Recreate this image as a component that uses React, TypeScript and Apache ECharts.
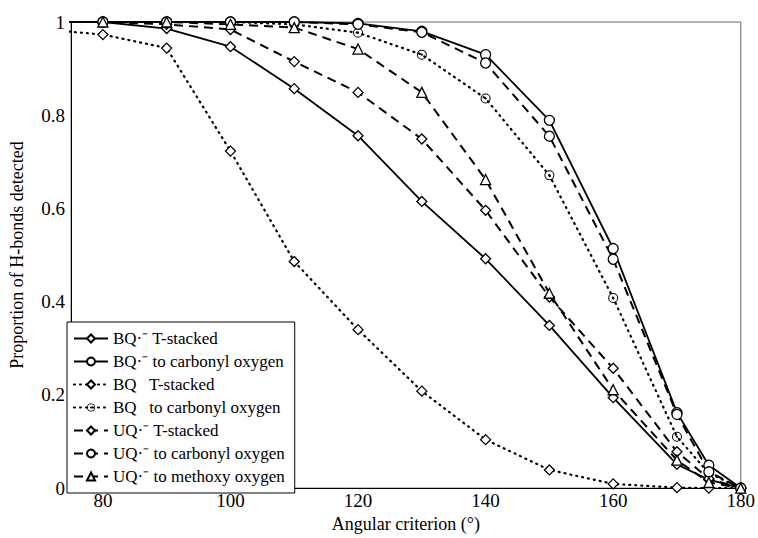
import React, { useEffect, useRef } from "react";
import * as echarts from "echarts";

// Angular criterion (degrees) at which each curve was sampled
const angles = [70, 80, 90, 100, 110, 120, 130, 140, 150, 160, 170, 175, 180];

// Proportion of H-bonds detected for each system / acceptor
const bqAnionTStacked = [1, 1, 0.986, 0.947, 0.857, 0.756, 0.615, 0.492, 0.349, 0.194, 0.051, 0.018, 0];
const bqAnionCarbonyl = [1, 1, 1, 1, 1, 0.997, 0.98, 0.93, 0.789, 0.514, 0.162, 0.049, 0];
const bqTStacked = [0.985, 0.973, 0.944, 0.723, 0.486, 0.34, 0.208, 0.104, 0.039, 0.009, 0.001, 0, 0];
const bqCarbonyl = [1, 1, 1, 1, 0.995, 0.977, 0.93, 0.836, 0.671, 0.408, 0.11, 0.032, 0];
const uqAnionTStacked = [1, 1, 0.995, 0.984, 0.915, 0.849, 0.749, 0.596, 0.41, 0.257, 0.078, 0.02, 0];
const uqAnionCarbonyl = [1, 1, 1, 1, 1, 0.995, 0.978, 0.912, 0.755, 0.491, 0.158, 0.035, 0];
const uqAnionMethoxy = [1, 1, 1, 0.995, 0.988, 0.942, 0.849, 0.662, 0.418, 0.211, 0.06, 0.012, 0];

const xTicks = [80, 100, 120, 140, 160, 180];
const yTicks = [0, 0.2, 0.4, 0.6, 0.8, 1];

const seriesNames = [
  "BQ\u00b7\u207b T-stacked",
  "BQ\u00b7\u207b to carbonyl oxygen",
  "BQ   T-stacked",
  "BQ   to carbonyl oxygen",
  "UQ\u00b7\u207b T-stacked",
  "UQ\u00b7\u207b to carbonyl oxygen",
  "UQ\u00b7\u207b to methoxy oxygen",
];

const FONT = "'Liberation Serif', 'Times New Roman', serif";

// ring with a centre dot, drawn as one filled path
const dottedCircle =
  "path://M0,-5A5,5,0,1,1,0,5A5,5,0,1,1,0,-5Z" +
  "M0,-4A4,4,0,1,0,0,4A4,4,0,1,0,0,-4Z" +
  "M0,-1.1A1.1,1.1,0,1,1,0,1.1A1.1,1.1,0,1,1,0,-1.1Z";

const pairs = (ys: number[]) => angles.map((a, i) => [a, ys[i]]);

export default function App() {
  const ref = useRef<HTMLDivElement>(null);

  useEffect(() => {
    if (!ref.current) return;
    const chart = echarts.init(ref.current, null, { renderer: "svg" });

    const solid = { type: "solid" as const, width: 1.8, color: "#000" };
    const dotted = { type: [1, 5] as number[], width: 2.2, cap: "round" as const, color: "#000" };
    const dashed = { type: [9, 6] as number[], width: 2, color: "#000" };

    const mk = (
      name: string,
      ys: number[],
      lineStyle: any,
      symbol: string,
      symbolSize: number,
      filledPath = false
    ) => ({
      name,
      type: "line",
      data: pairs(ys),
      lineStyle,
      symbol,
      symbolSize,
      showSymbol: true,
      clip: true,
      itemStyle: filledPath
        ? { color: "#000", borderWidth: 0 }
        : { color: "#fff", borderColor: "#000", borderWidth: 1.3 },
      emphasis: { disabled: true },
      z: 3,
    });

    chart.setOption({
      animation: false,
      backgroundColor: "#fff",
      grid: {
        left: 67,
        right: 14,
        top: 22,
        bottom: 43,
        show: true,
        borderColor: "#666",
        borderWidth: 1,
      },
      legend: {
        orient: "vertical",
        left: 67,
        top: 322,
        padding: [8, 10, 8, 6],
        itemGap: 6,
        itemWidth: 34,
        itemHeight: 10,
        backgroundColor: "#fff",
        borderColor: "#000",
        borderWidth: 1,
        textStyle: { fontFamily: FONT, fontSize: 17, color: "#000" },
        data: seriesNames,
        z: 10,
      },
      xAxis: {
        type: "value",
        min: 75,
        max: 180,
        name: "Angular criterion (\u00b0)",
        nameLocation: "middle",
        nameGap: 24,
        nameTextStyle: { fontFamily: FONT, fontSize: 18, color: "#000" },
        axisLine: { show: true, lineStyle: { color: "#000", width: 1 } },
        axisTick: { show: false },
        splitLine: { show: false },
        axisLabel: {
          customValues: xTicks,
          fontFamily: FONT,
          fontSize: 19,
          color: "#000",
          margin: 3,
        },
      },
      yAxis: {
        type: "value",
        min: 0,
        max: 1,
        interval: 0.2,
        name: "Proportion of H-bonds detected",
        nameLocation: "middle",
        nameGap: 45,
        nameTextStyle: { fontFamily: FONT, fontSize: 18, color: "#000" },
        axisLine: { show: true, lineStyle: { color: "#000", width: 1 } },
        axisTick: { show: false },
        splitLine: { show: false },
        axisLabel: {
          customValues: yTicks,
          formatter: (v: number) => String(Math.round(v * 10) / 10),
          fontFamily: FONT,
          fontSize: 19,
          color: "#000",
          margin: 6,
        },
      },
      series: [
        mk(seriesNames[0], bqAnionTStacked, solid, "diamond", 10),
        mk(seriesNames[1], bqAnionCarbonyl, solid, "circle", 10),
        mk(seriesNames[2], bqTStacked, dotted, "diamond", 10),
        mk(seriesNames[3], bqCarbonyl, dotted, dottedCircle, 10, true),
        mk(seriesNames[4], uqAnionTStacked, dashed, "diamond", 10),
        mk(seriesNames[5], uqAnionCarbonyl, dashed, "circle", 10),
        mk(seriesNames[6], uqAnionMethoxy, dashed, "triangle", 10),
      ],
    });

    return () => chart.dispose();
  }, []);

  return (
    <div
      ref={ref}
      style={{ position: "absolute", left: 0, top: 0, width: 758, height: 538 }}
    />
  );
}
